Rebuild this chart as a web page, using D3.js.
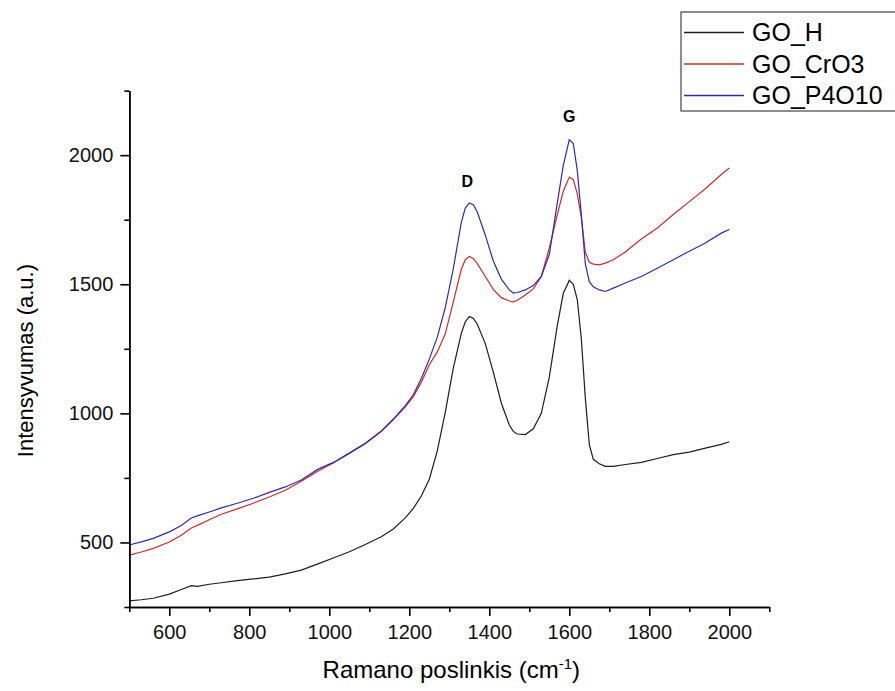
<!DOCTYPE html>
<html>
<head>
<meta charset="utf-8">
<script src="https://cdn.jsdelivr.net/npm/d3@7"></script>
<style>
  body { margin: 0; background: #fff; }
  svg { font-family: 'Liberation Sans', Arial, sans-serif; }
  .axis path, .axis line { stroke: #000; stroke-width: 1.6; }
  .axis text { font-size: 20px; fill: #111; }
</style>
</head>
<body>
<script>
// Raman shift (cm-1)
var shift = [500, 530, 560, 600, 630, 655, 670, 700, 730, 770, 810, 850, 890, 930, 970,
  1010, 1050, 1090, 1130, 1160, 1190, 1210, 1230, 1250, 1270, 1290, 1310, 1330, 1340,
  1350, 1360, 1370, 1390, 1410, 1430, 1450, 1460, 1470, 1490, 1510, 1530, 1550, 1570,
  1585, 1600, 1610, 1620, 1630, 1640, 1650, 1660, 1675, 1690, 1710, 1740, 1780, 1820,
  1860, 1900, 1940, 1980, 2000];

var goH = [274, 278, 284, 300, 318, 333, 330, 338, 344, 352, 359, 366, 378, 393, 416,
  440, 464, 492, 522, 552, 595, 632, 680, 745, 855, 1005, 1175, 1310, 1355,
  1375, 1368, 1345, 1270, 1160, 1040, 955, 930, 920, 918, 940, 1000, 1140, 1340,
  1465, 1515, 1500, 1440, 1290, 1060, 880, 822, 805, 795, 795, 802, 810, 825,
  840, 850, 865, 880, 890];

var goCrO3 = [451, 463, 477, 502, 528, 556, 566, 588, 609, 630, 652, 676, 702, 737, 775,
  808, 845, 882, 930, 975, 1025, 1065, 1120, 1188, 1238, 1308, 1432, 1558, 1595,
  1608, 1600, 1580, 1530, 1480, 1448, 1435, 1432, 1438, 1458, 1482, 1530, 1640, 1770,
  1860, 1915, 1905, 1850, 1760, 1625, 1585, 1578, 1575, 1582, 1595, 1625, 1675, 1718,
  1770, 1820, 1870, 1925, 1950];

var goP4O10 = [490, 502, 516, 541, 566, 595, 603, 618, 634, 652, 671, 694, 715, 742, 782,
  810, 846, 884, 932, 978, 1030, 1072, 1135, 1210, 1295, 1410, 1560, 1740, 1795,
  1815, 1808, 1780, 1690, 1590, 1520, 1478, 1466, 1468, 1478, 1495, 1530, 1615, 1815,
  1960, 2060, 2045, 1940, 1770, 1580, 1510, 1490, 1478, 1472, 1485, 1505, 1530, 1562,
  1595, 1628, 1660, 1698, 1712];

var seriesNames = ['GO_H', 'GO_CrO3', 'GO_P4O10'];
var seriesColors = ['#1e1e1e', '#d42a2a', '#2c2cb0'];

var xMajor = [600, 800, 1000, 1200, 1400, 1600, 1800, 2000];
var xMinor = [500, 700, 900, 1100, 1300, 1500, 1700, 1900, 2100];
var yMajor = [500, 1000, 1500, 2000];
var yMinor = [250, 750, 1250, 1750, 2250];

var peaks = [{label: 'D', x: 1345, y: 1815}, {label: 'G', x: 1600, y: 2065}];

var margin = {top: 90.6, right: 125.7, bottom: 84, left: 129.3},
    width = 895 - margin.left - margin.right,
    height = 691 - margin.top - margin.bottom;

var svg = d3.select('body').append('svg')
  .attr('width', 895)
  .attr('height', 691);

var g = svg.append('g')
  .attr('transform', 'translate(' + margin.left + ',' + margin.top + ')');

var xScale = d3.scaleLinear().domain([500, 2100]).range([0, width]);
var yScale = d3.scaleLinear().domain([250, 2250]).range([height, 0]);

var series = [goH, goCrO3, goP4O10];

var line = d3.line()
  .x(function(d) { return xScale(d[0]); })
  .y(function(d) { return yScale(d[1]); });

series.forEach(function(vals, i) {
  g.append('path')
    .datum(shift.map(function(s, j) { return [s, vals[j]]; }))
    .attr('fill', 'none')
    .attr('stroke', seriesColors[i])
    .attr('stroke-width', 1.2)
    .attr('d', line);
});

// minor ticks first, then major ticks with labels
g.append('g')
  .attr('class', 'axis')
  .attr('transform', 'translate(0,' + height + ')')
  .call(d3.axisBottom(xScale).tickValues(xMinor).tickSize(5).tickFormat('').tickSizeOuter(0));

g.append('g')
  .attr('class', 'axis')
  .attr('transform', 'translate(0,' + height + ')')
  .call(d3.axisBottom(xScale).tickValues(xMajor).tickSize(9).tickPadding(9)
    .tickFormat(d3.format('d')).tickSizeOuter(0));

g.append('g')
  .attr('class', 'axis')
  .call(d3.axisLeft(yScale).tickValues(yMinor).tickSize(5).tickFormat('').tickSizeOuter(0));

g.append('g')
  .attr('class', 'axis')
  .call(d3.axisLeft(yScale).tickValues(yMajor).tickSize(9).tickPadding(7)
    .tickFormat(d3.format('d')).tickSizeOuter(0));

// axis titles
g.append('text')
  .attr('transform', 'rotate(-90)')
  .attr('x', -270)
  .attr('y', -96)
  .attr('text-anchor', 'middle')
  .style('font-size', '22px')
  .text('Intensyvumas (a.u.)');

var xTitle = g.append('text')
  .attr('x', width / 2 + 2)
  .attr('y', height + 71)
  .attr('text-anchor', 'middle')
  .style('font-size', '24px');
xTitle.append('tspan').text('Ramano poslinkis (cm');
xTitle.append('tspan').attr('dy', -9).style('font-size', '15px').text('-1');
xTitle.append('tspan').attr('dy', 9).text(')');

// peak labels
g.selectAll('.peak')
  .data(peaks)
  .enter()
  .append('text')
  .attr('class', 'peak')
  .attr('x', function(d) { return xScale(d.x); })
  .attr('y', function(d) { return yScale(d.y) - 16; })
  .attr('text-anchor', 'middle')
  .style('font-size', '16px')
  .style('font-weight', 'bold')
  .text(function(d) { return d.label; });

// legend
var legend = svg.append('g').attr('transform', 'translate(681,12)');

legend.append('rect')
  .attr('width', 230)
  .attr('height', 99)
  .attr('fill', '#fff')
  .attr('stroke', '#444')
  .attr('stroke-width', 1.2);

var item = legend.selectAll('.item')
  .data(seriesNames)
  .enter()
  .append('g')
  .attr('class', 'item')
  .attr('transform', function(d, i) { return 'translate(0,' + (20 + i * 31.5) + ')'; });

item.append('line')
  .attr('x1', 3)
  .attr('x2', 63)
  .attr('y1', 0.5)
  .attr('y2', 0.5)
  .style('stroke', function(d) { return seriesColors[seriesNames.indexOf(d)]; })
  .style('stroke-width', 1.4);

item.append('text')
  .attr('x', 71)
  .attr('y', 9)
  .style('font-size', '25px')
  .text(function(d) { return d; });
</script>
</body>
</html>
